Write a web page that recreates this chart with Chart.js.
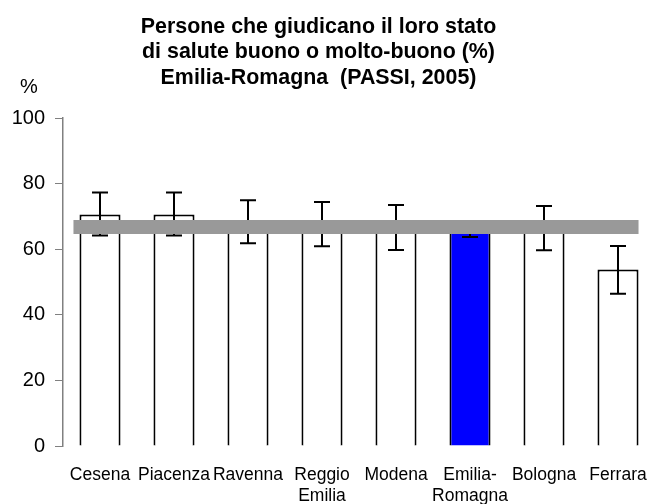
<!DOCTYPE html>
<html>
<head>
<meta charset="utf-8">
<script src="https://cdn.jsdelivr.net/npm/chart.js@4"></script>
<style>
  html, body { margin: 0; padding: 0; background: #fff; overflow: hidden; }
  #wrap { position: relative; width: 660px; height: 504px; }
</style>
</head>
<body>
<div id="wrap"><canvas id="salute-chart"></canvas></div>
<script>
const categories = ['Cesena', 'Piacenza', 'Ravenna', ['Reggio', 'Emilia'], 'Modena', ['Emilia-', 'Romagna'], 'Bologna', 'Ferrara'];
const values = [70.6, 70.6, 68.4, 67.6, 66.6, 66.2, 66.4, 53.8];
const lowerCI = [64.2, 64.2, 61.8, 60.9, 59.8, 63.7, 59.7, 46.4];
const upperCI = [77.3, 77.3, 74.9, 74.4, 73.5, 68.5, 73.2, 61.0];
const regionValue = 66.8;
const yTicks = [0, 20, 40, 60, 80, 100];
const barColors = ['#ffffff', '#ffffff', '#ffffff', '#ffffff', '#ffffff', '#0000ff', '#ffffff', '#ffffff'];

const FONT = "'Liberation Sans', Arial, sans-serif";

const errorBars = {
    id: 'errorBars',
    afterDatasetsDraw(chart) {
        const ctx = chart.ctx;
        const y = chart.scales.y;
        const bars = chart.getDatasetMeta(0).data;
        ctx.save();
        ctx.strokeStyle = '#000';
        ctx.lineWidth = 2;
        bars.forEach((bar, i) => {
            const yLo = y.getPixelForValue(lowerCI[i]);
            const yHi = y.getPixelForValue(upperCI[i]);
            ctx.beginPath();
            ctx.moveTo(bar.x, yLo); ctx.lineTo(bar.x, yHi);
            ctx.moveTo(bar.x - 8, yLo); ctx.lineTo(bar.x + 8, yLo);
            ctx.moveTo(bar.x - 8, yHi); ctx.lineTo(bar.x + 8, yHi);
            ctx.stroke();
        });
        // regional reference line drawn over bars and error bars
        const first = bars[0], last = bars[bars.length - 1];
        const yr = y.getPixelForValue(regionValue);
        ctx.strokeStyle = '#999999';
        ctx.lineWidth = 14;
        ctx.beginPath();
        ctx.moveTo(first.x - first.width / 2 - 6, yr);
        ctx.lineTo(last.x + last.width / 2, yr);
        ctx.stroke();
        // "%" label above the y axis
        ctx.fillStyle = '#000';
        ctx.font = '20px ' + FONT;
        ctx.textAlign = 'center';
        ctx.textBaseline = 'middle';
        ctx.fillText('%', chart.chartArea.left - 34, chart.chartArea.top - 31);
        ctx.restore();
    }
};

function buildChart() {
    const ctx = document.getElementById('salute-chart').getContext('2d');
    return new Chart(ctx, {
        type: 'bar',
        data: {
            labels: categories,
            datasets: [{
                data: values,
                backgroundColor: barColors,
                borderColor: '#000',
                borderWidth: 2,
                barPercentage: 0.555,
                categoryPercentage: 1
            }]
        },
        options: {
            responsive: true,
            maintainAspectRatio: false,
            animation: false,
            // negative left padding keeps the title centred on the visible 648px
            layout: { padding: { top: 0, right: 5, bottom: 0, left: -18 } },
            plugins: {
                legend: { display: false },
                tooltip: { enabled: false },
                title: {
                    display: true,
                    text: ['Persone che giudicano il loro stato', 'di salute buono o molto-buono (%)', 'Emilia-Romagna  (PASSI, 2005)'],
                    color: '#000',
                    font: { family: FONT, size: 21.4, weight: 'bold', lineHeight: 1.2 },
                    padding: { top: 14, bottom: 27 }
                }
            },
            scales: {
                x: {
                    grid: { display: false },
                    border: { display: false },
                    ticks: {
                        color: '#000',
                        font: { family: FONT, size: 17.5, lineHeight: 1.2 },
                        autoSkip: false, maxRotation: 0, minRotation: 0,
                        padding: 11
                    },
                    afterFit(scale) { scale.height = 58; }
                },
                y: {
                    min: 0, max: 100,
                    afterBuildTicks(scale) { scale.ticks = yTicks.map(v => ({ value: v })); },
                    grid: { drawOnChartArea: false, color: '#808080', tickLength: 8 },
                    border: { color: '#808080', width: 1.5 },
                    ticks: {
                        color: '#000',
                        font: { family: FONT, size: 20 },
                        padding: 10
                    },
                    afterFit(scale) { scale.width = 81; }
                }
            }
        },
        plugins: [errorBars]
    });
}

document.addEventListener('DOMContentLoaded', buildChart);
</script>
</body>
</html>
